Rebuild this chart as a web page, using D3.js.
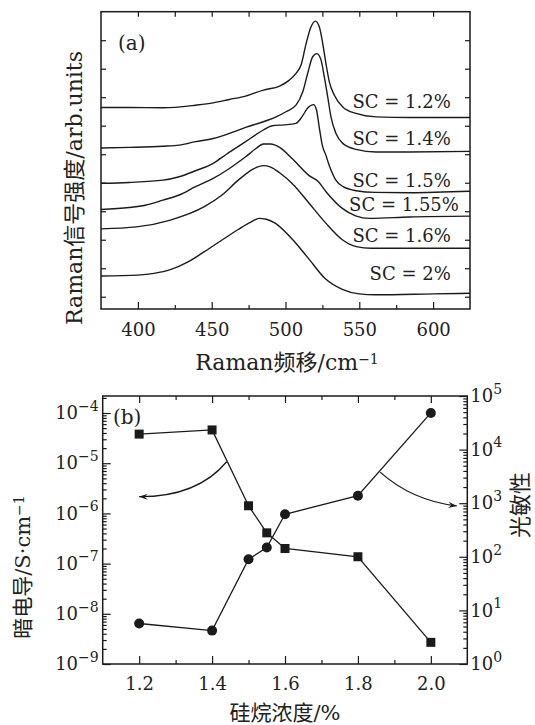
<!DOCTYPE html>
<html>
<head>
<meta charset="utf-8">
<script src="https://cdn.jsdelivr.net/npm/d3@7"></script>
<style>
body { margin: 0; background: #fff; }
svg { display: block; }
text { font-family: "DejaVu Serif", "Noto Sans CJK SC", serif; fill: #222; }
</style>
</head>
<body>
<div id="chart"></div>
<script>
// (a) Raman spectra: [shift cm-1, intensity arb.units]
var sc12 = [[375,7.64],[394,7.64],[417,7.63],[439,7.72],[451,7.80],[462,7.92],[473,8.04],[485,8.25],[496,8.39],
    [502.6,8.60],[507,8.83],[510.5,9.12],[514,9.89],[517.3,10.47],[520.2,10.67],[522.9,10.47],[525.2,9.89],
    [527.4,9.18],[529.7,8.54],[533.1,8.07],[538.8,7.66],[547.8,7.43],[561.3,7.31],[584,7.29],[625,7.29]];
var sc14 = [[375,6.22],[394,6.24],[417,6.28],[428,6.32],[439,6.44],[451,6.55],[462,6.73],[473,6.94],[485,7.14],
    [494,7.32],[500.3,7.49],[507.1,7.72],[511.7,8.19],[515,8.83],[518.4,9.42],[521.3,9.53],[524.1,9.30],
    [526.3,8.71],[528.6,8.01],[530.8,7.31],[534.2,6.73],[538.8,6.38],[547.8,6.17],[561.3,6.08],[584,6.08],[625,6.10]];
var sc15 = [[375,4.98],[394,5.01],[417,5.09],[428,5.21],[439,5.42],[451,5.68],[460,6.0],[473,6.44],[485,6.85],
    [491,7.0],[499,7.03],[507,7.08],[511,7.3],[515,7.62],[519,7.74],[521,7.55],[523,6.9],[525,6.3],[527.5,5.95],
    [529,5.7],[531,5.42],[534,5.1],[539,4.86],[548,4.72],[561,4.66],[584,4.65],[625,4.70]];
var sc155 = [[375,4.06],[394,4.13],[405,4.21],[417,4.39],[428,4.57],[439,4.86],[451,5.15],[462,5.5],[473,5.91],
    [480,6.2],[485,6.36],[490,6.36],[496,6.24],[505,5.82],[516,5.25],[522,5.05],[528,4.65],[538.5,4.1],
    [547.5,3.84],[557,3.75],[584,3.8],[625,3.83]];
var sc16 = [[375,3.38],[399,3.45],[422,3.69],[445,4.16],[457,4.57],[468,5.09],[478,5.48],[485,5.6],[490,5.55],
    [496,5.35],[505,4.95],[516,4.28],[527,3.6],[538.5,3.0],[548,2.76],[558,2.70],[625,2.70]];
var sc20 = [[375,1.73],[400,1.76],[411,1.82],[422,1.95],[434,2.22],[445,2.58],[457,2.99],
    [468,3.36],[478,3.66],[482,3.75],[487,3.72],[493,3.58],[504,3.05],[515,2.38],[527,1.63],
    [538.5,1.26],[550,1.10],[561,1.07],[600,1.10],[625,1.12]];
var scNames = ["SC = 1.2%", "SC = 1.4%", "SC = 1.5%", "SC = 1.55%", "SC = 1.6%", "SC = 2%"];
var scLabelAt = [[612,7.84],[612,6.55],[612,5.09],[617.5,4.22],[612,3.16],[612,1.82]];
var ramanTicks = [400, 450, 500, 550, 600];
var ramanMinor = [425, 475, 525, 575];
var intensityTicks = [1, 2, 3, 4, 5, 6, 7, 8, 9, 10];

// (b) silane concentration vs dark conductivity / photosensitivity
var silane = [1.2, 1.4, 1.5, 1.55, 1.6, 1.8, 2.0];
var darkCond = [3.8e-5, 4.6e-5, 1.42e-6, 4.1e-7, 2.0e-7, 1.37e-7, 2.7e-9];
var photoSens = [5.7, 4.2, 90, 149, 622, 1380, 48300];
var silaneTicks = [1.2, 1.4, 1.6, 1.8, 2.0];
var silaneMinor = [1.3, 1.5, 1.7, 1.9];
var darkTicks = [1e-9, 1e-8, 1e-7, 1e-6, 1e-5, 1e-4];
var sensTicks = [1, 10, 100, 1000, 10000, 100000];

var W = 535, H = 725;
var svg = d3.select("#chart").append("svg").attr("width", W).attr("height", H);
var ink = "#1a1a1a";

function styleAxis(g, size) {
    g.select(".domain").remove();
    g.attr("font-family", null).attr("font-size", null);
    g.selectAll("line").attr("stroke", ink).attr("stroke-width", 1.2);
    g.selectAll("text").style("font-size", size + "px").attr("fill", "#222");
}

// ================= panel (a) =================
var xa = d3.scaleLinear().domain([375, 625]).range([101, 470]);
var ya = d3.scaleLinear().domain([0.57, 11]).range([309, 11.7]);

var line = d3.line()
    .x(function(d) { return xa(d[0]); })
    .y(function(d) { return ya(d[1]); })
    .curve(d3.curveMonotoneX);

svg.append("g").selectAll("path")
    .data([sc12, sc14, sc15, sc155, sc16, sc20])
    .enter().append("path")
    .attr("d", line)
    .attr("fill", "none")
    .attr("stroke", ink)
    .attr("stroke-width", 1.4)
    .attr("stroke-linejoin", "round");

svg.append("g").call(d3.axisBottom(xa).tickValues(ramanTicks).tickSize(-7).tickPadding(14))
    .attr("transform", "translate(0," + ya.range()[0] + ")").call(styleAxis, 18);
svg.append("g").call(d3.axisBottom(xa).tickValues(ramanMinor).tickSize(-4).tickFormat(""))
    .attr("transform", "translate(0," + ya.range()[0] + ")").call(styleAxis, 18);
svg.append("g").call(d3.axisTop(xa).tickValues(ramanTicks.concat(ramanMinor)).tickSize(-5).tickFormat(""))
    .attr("transform", "translate(0," + ya.range()[1] + ")").call(styleAxis, 18);
svg.append("g").call(d3.axisLeft(ya).tickValues(intensityTicks).tickSize(-5).tickFormat(""))
    .attr("transform", "translate(" + xa.range()[0] + ",0)").call(styleAxis, 18);
svg.append("g").call(d3.axisRight(ya).tickValues(intensityTicks).tickSize(-5).tickFormat(""))
    .attr("transform", "translate(" + xa.range()[1] + ",0)").call(styleAxis, 18);

svg.append("rect")
    .attr("x", xa.range()[0]).attr("y", ya.range()[1])
    .attr("width", xa.range()[1] - xa.range()[0]).attr("height", ya.range()[0] - ya.range()[1])
    .attr("fill", "none").attr("stroke", ink).attr("stroke-width", 1.5);

svg.append("g").selectAll("text")
    .data(scNames)
    .enter().append("text")
    .attr("x", function(d, i) { return xa(scLabelAt[i][0]); })
    .attr("y", function(d, i) { return ya(scLabelAt[i][1]) + 6.5; })
    .attr("text-anchor", "end")
    .style("font-size", "18px")
    .text(function(d) { return d; });

svg.append("text").attr("x", 118).attr("y", 50).style("font-size", "20px").text("(a)");

var xt = svg.append("text").attr("x", 287).attr("y", 370).attr("text-anchor", "middle").style("font-size", "22px");
xt.append("tspan").text("Raman频移/cm");
xt.append("tspan").attr("dy", "-0.45em").style("font-size", "14px").text("−1");

svg.append("text")
    .attr("transform", "translate(82,188) rotate(-90)")
    .attr("text-anchor", "middle")
    .style("font-size", "22px")
    .text("Raman信号强度/arb.units");

// ================= panel (b) =================
var xb = d3.scaleLinear().domain([1.1, 2.1]).range([102.7, 467.3]);
var yl = d3.scaleLog().domain([1e-9, Math.pow(10, -3.661)]).range([664, 396]);
var yr = d3.scaleLog().domain([1, 1e5]).range([664, 396]);

function minorLog(scale) {
    var dom = scale.domain(), out = [];
    for (var e = Math.floor(Math.log10(dom[0])); e <= Math.ceil(Math.log10(dom[1])); e++) {
        for (var k = 2; k <= 9; k++) {
            var v = k * Math.pow(10, e);
            if (v > dom[0] && v < dom[1]) out.push(v);
        }
    }
    return out;
}

function powerLabels(g) {
    g.selectAll(".tick text").each(function(d) {
        var t = d3.select(this), e = Math.round(Math.log10(d));
        t.text(null);
        t.append("tspan").text("10");
        t.append("tspan").attr("dy", "-0.6em").style("font-size", "14px")
            .text(e < 0 ? "−" + (-e) : String(e));
    });
}

svg.append("g").call(d3.axisBottom(xb).tickValues(silaneTicks).tickSize(-8).tickPadding(13)
        .tickFormat(d3.format(".1f")))
    .attr("transform", "translate(0," + yl.range()[0] + ")").call(styleAxis, 18);
svg.append("g").call(d3.axisBottom(xb).tickValues(silaneMinor).tickSize(-4).tickFormat(""))
    .attr("transform", "translate(0," + yl.range()[0] + ")").call(styleAxis, 18);
svg.append("g").call(d3.axisTop(xb).tickValues(silaneTicks).tickSize(-7).tickFormat(""))
    .attr("transform", "translate(0," + yl.range()[1] + ")").call(styleAxis, 18);
svg.append("g").call(d3.axisTop(xb).tickValues(silaneMinor).tickSize(-4).tickFormat(""))
    .attr("transform", "translate(0," + yl.range()[1] + ")").call(styleAxis, 18);

svg.append("g").call(d3.axisLeft(yl).tickValues(darkTicks).tickSize(-8).tickPadding(4).tickFormat(""))
    .attr("transform", "translate(" + xb.range()[0] + ",0)").call(styleAxis, 18).call(powerLabels);
svg.append("g").call(d3.axisLeft(yl).tickValues(minorLog(yl)).tickSize(-4).tickFormat(""))
    .attr("transform", "translate(" + xb.range()[0] + ",0)").call(styleAxis, 18);
svg.append("g").call(d3.axisRight(yr).tickValues(sensTicks).tickSize(-8).tickPadding(3).tickFormat(""))
    .attr("transform", "translate(" + xb.range()[1] + ",0)").call(styleAxis, 18).call(powerLabels);
svg.append("g").call(d3.axisRight(yr).tickValues(minorLog(yr)).tickSize(-4).tickFormat(""))
    .attr("transform", "translate(" + xb.range()[1] + ",0)").call(styleAxis, 18);

svg.append("rect")
    .attr("x", xb.range()[0]).attr("y", yl.range()[1])
    .attr("width", xb.range()[1] - xb.range()[0]).attr("height", yl.range()[0] - yl.range()[1])
    .attr("fill", "none").attr("stroke", ink).attr("stroke-width", 1.5);

// dark conductivity: squares on left axis
var darkLine = d3.line().x(function(d, i) { return xb(silane[i]); }).y(function(d) { return yl(d); });
svg.append("path").attr("d", darkLine(darkCond))
    .attr("fill", "none").attr("stroke", ink).attr("stroke-width", 1.3);
svg.append("g").selectAll("rect").data(darkCond).enter().append("rect")
    .attr("x", function(d, i) { return xb(silane[i]) - 4.5; })
    .attr("y", function(d) { return yl(d) - 4.5; })
    .attr("width", 9).attr("height", 9).attr("fill", ink);

// photosensitivity: circles on right axis
var sensLine = d3.line().x(function(d, i) { return xb(silane[i]); }).y(function(d) { return yr(d); });
svg.append("path").attr("d", sensLine(photoSens))
    .attr("fill", "none").attr("stroke", ink).attr("stroke-width", 1.3);
svg.append("g").selectAll("circle").data(photoSens).enter().append("circle")
    .attr("cx", function(d, i) { return xb(silane[i]); })
    .attr("cy", function(d) { return yr(d); })
    .attr("r", 5).attr("fill", ink);

// curved arrows pointing to the axes
function arrow(s, c, e) {
    var p = d3.path();
    p.moveTo(s[0], s[1]);
    p.quadraticCurveTo(c[0], c[1], e[0], e[1]);
    svg.append("path").attr("d", p.toString()).attr("fill", "none").attr("stroke", ink).attr("stroke-width", 1.3);
    var a = Math.atan2(e[1] - c[1], e[0] - c[0]), L = 9, w = 0.35;
    var h = d3.path();
    h.moveTo(e[0], e[1]);
    h.lineTo(e[0] - L * Math.cos(a - w), e[1] - L * Math.sin(a - w));
    h.lineTo(e[0] - 0.6 * L * Math.cos(a), e[1] - 0.6 * L * Math.sin(a));
    h.lineTo(e[0] - L * Math.cos(a + w), e[1] - L * Math.sin(a + w));
    h.closePath();
    svg.append("path").attr("d", h.toString()).attr("fill", ink);
}
arrow([xb(1.44), yl(1.07e-5)], [xb(1.36), yl(2.14e-6)], [xb(1.2), yl(2.15e-6)]);
arrow([xb(1.861), yr(3800)], [xb(1.947), yr(1129)], [xb(2.071), yr(888)]);

svg.append("text").attr("x", 113).attr("y", 424).style("font-size", "20px").text("(b)");

svg.append("text").attr("x", 285).attr("y", 720).attr("text-anchor", "middle")
    .style("font-size", "21px").text("硅烷浓度/%");

var yt = svg.append("text")
    .attr("transform", "translate(30,567) rotate(-90)")
    .attr("text-anchor", "middle")
    .style("font-size", "21px");
yt.append("tspan").text("暗电导/S·cm");
yt.append("tspan").attr("dy", "-0.45em").style("font-size", "14px").text("−1");

svg.append("text")
    .attr("transform", "translate(528,505) rotate(-90)")
    .attr("text-anchor", "middle")
    .style("font-size", "22px")
    .text("光敏性");
</script>
</body>
</html>
